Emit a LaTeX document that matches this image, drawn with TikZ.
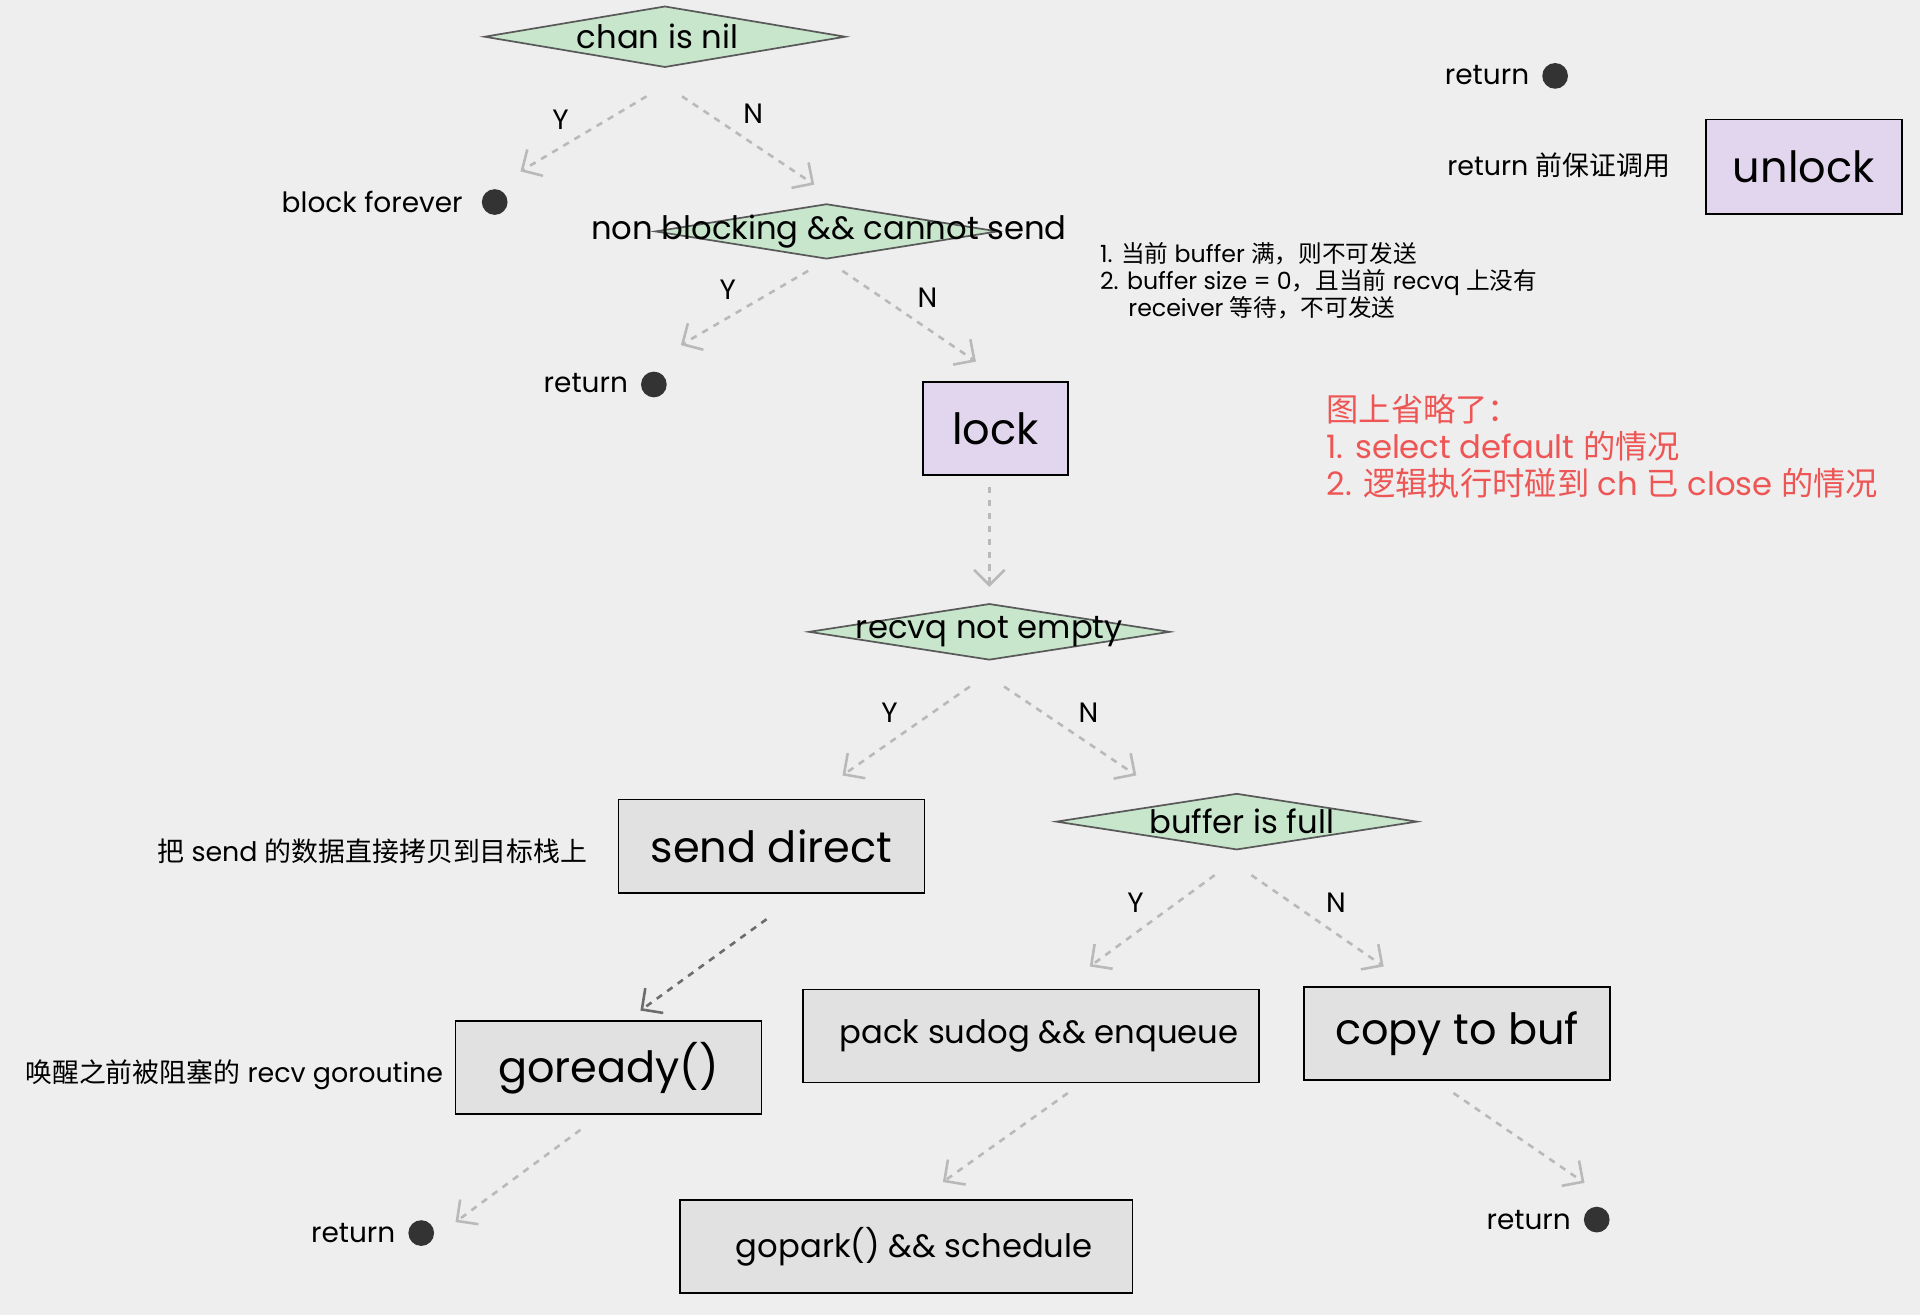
\documentclass[tikz,border=0pt]{standalone}
\usepackage{fontspec}
\setmainfont{Poppins}
\newfontfamily\cjk{Noto Sans CJK SC}
\usetikzlibrary{shapes.geometric, arrows.meta, calc, positioning}
\definecolor{bgcol}{HTML}{EEEEEE}
\definecolor{diafill}{HTML}{C8E6CC}
\definecolor{lockfill}{HTML}{E2D6EE}
\definecolor{boxfill}{HTML}{E1E1E1}
\definecolor{notered}{HTML}{EE5555}
\tikzset{
	decide/.style = {diamond, aspect=6, thick, draw=gray!70!black, fill=diafill, inner sep=0pt},
	lockbox/.style = {rectangle, thick, draw=black, fill=lockfill, font=\fontsize{20}{20}\selectfont},
	stepbox/.style = {rectangle, thick, draw=black, fill=boxfill},
	flow/.style = {very thick, dashed, gray!55, -{Straight Barb[length=2.5mm]}},
	label/.style = {font=\fontsize{13}{13}\selectfont},
	stopdot/.style = {circle, fill=black!80, minimum size=0.42cm, inner sep=0pt},
}
\begin{document}
\begin{tikzpicture}[x=0.02cm, y=-0.02cm]
	\fill[bgcol] (0,0) rectangle (1568,1074);
	\useasboundingbox (0,0) rectangle (1568,1074);
	% decisions
	\node (Nil) [decide, minimum width=5.9cm, minimum height=1cm] at (543,30) {};
	\node at (537,30) [font=\fontsize{15}{15}\selectfont] {chan is nil};
	\node (NonBlock) [decide, minimum width=5.6cm, minimum height=0.9cm] at (675,189) {};
	\node at (677,189) [font=\fontsize{15}{15}\selectfont] {non blocking \&\& cannot send};
	\node (Recvq) [decide, minimum width=5.9cm, minimum height=0.92cm] at (808,516) {};
	\node at (Recvq) [font=\fontsize{15}{15}\selectfont] {recvq not empty};
	\node (BufFull) [decide, minimum width=5.9cm, minimum height=0.92cm] at (1010,671) {};
	\node at (1014,671) [font=\fontsize{15}{15}\selectfont] {buffer is full};
	% boxes
	\node (Lock) [lockbox, minimum width=2.36cm, minimum height=1.52cm] at (813,350) {lock};
	\node (Unlock) [lockbox, minimum width=3.2cm, minimum height=1.54cm] at (1473,136) {unlock};
	\node (SendDirect) [stepbox, minimum width=5cm, minimum height=1.52cm, font=\fontsize{20}{20}\selectfont] at (630,691) {send direct};
	\node (GoReady) [stepbox, minimum width=5cm, minimum height=1.52cm, font=\fontsize{20}{20}\selectfont] at (497,872) {goready()};
	\node (Pack) [stepbox, minimum width=7.44cm, minimum height=1.52cm, font=\fontsize{15}{15}\selectfont] at (842,846) {\hspace{0.5em}pack sudog \&\& enqueue};
	\node (CopyBuf) [stepbox, minimum width=5cm, minimum height=1.52cm, font=\fontsize{20}{20}\selectfont] at (1190,844) {copy to buf};
	\node (GoPark) [stepbox, minimum width=7.4cm, minimum height=1.52cm, font=\fontsize{15}{15}\selectfont] at (740,1018) {\hspace{0.5em}gopark() \&\& schedule};
	% end points
	\node (Block) [label, anchor=east] at (384,165) {block forever};
	\node (BlockDot) [stopdot] at (404,165) {};
	\node (Ret01) [label, anchor=east] at (519,313) {return};
	\node (Ret01Dot) [stopdot] at (534,314) {};
	\node (Ret02) [label, anchor=east] at (1255,61) {return};
	\node (Ret02Dot) [stopdot] at (1270,62) {};
	\node (Ret03) [label, anchor=east] at (329,1007) {return};
	\node (Ret03Dot) [stopdot] at (344,1007) {};
	\node (Ret04) [label, anchor=east] at (1289,996) {return};
	\node (Ret04Dot) [stopdot] at (1304,996) {};
	% notes
	\node (UnlockNote) [anchor=east, font=\fontsize{12.5}{12.5}\selectfont] at (1370,135) {return {\cjk 前保证调用}};
	\node (SendNote) [anchor=east, font=\fontsize{12.5}{12.5}\selectfont] at (486,695) {{\cjk 把} send {\cjk 的数据直接拷贝到目标栈上}};
	\node (ReadyNote) [anchor=east, font=\fontsize{12.5}{12.5}\selectfont] at (368,878) {{\cjk 唤醒之前被阻塞的} recv goroutine};
	\node (BufNote) [anchor=north west, align=left, font=\fontsize{11}{12.5}\selectfont, inner sep=0pt] at (898,198)
		{1. {\cjk 当前} buffer {\cjk 满，则不可发送}\\2. buffer size = 0{\cjk ，且当前} recvq {\cjk 上没有}\\\hspace{1.2em}receiver {\cjk 等待，不可发送}};
	\node (Omit) [anchor=north west, align=left, text=notered, font=\fontsize{15}{17}\selectfont, inner sep=0pt] at (1083,322)
		{{\cjk 图上省略了：}\\1. select default {\cjk 的情况}\\2. {\cjk 逻辑执行时碰到} ch {\cjk 已} close {\cjk 的情况}};
	% connectors
	\draw [flow] ($(Nil.south)+(-15,23)$) -- ($(Block.north east)+(41,-10)$) node[pos=0.55, black, above left, label] {Y};
	\draw [flow] ($(Nil.south)+(14,23)$) -- ($(NonBlock.north)+(-10,-15)$) node[pos=0.4, black, above right, label] {N};
	\draw [flow] ($(NonBlock.south)+(-15,9)$) -- ($(Ret01.north east)+(37,-17)$) node[pos=0.5, black, above left, label] {Y};
	\draw [flow] ($(NonBlock.south)+(13,9)$) -- ($(Lock.north)+(-16,-16)$) node[pos=0.5, black, above right, label] {N};
	\draw [flow] ($(Lock.south)+(-5,9)$) -- ($(Recvq.north)+(0,-13)$);
	\draw [flow] ($(Recvq.south)+(-16,21)$) -- ($(SendDirect.north)+(58,-19)$) node[pos=0.5, black, above left, label] {Y};
	\draw [flow] ($(Recvq.south)+(12,21)$) -- ($(BufFull.north)+(-82,-14)$) node[pos=0.5, black, above right, label] {N};
	\draw [flow] ($(BufFull.south)+(-18,20)$) -- ($(Pack.north)+(48,-18)$) node[pos=0.5, black, above left, label] {Y};
	\draw [flow] ($(BufFull.south)+(12,20)$) -- ($(CopyBuf.north)+(-60,-16)$) node[pos=0.5, black, above right, label] {N};
	\draw [flow, gray!85!black] ($(SendDirect.south)+(-4,21)$) -- ($(GoReady.north)+(26,-8)$);
	\draw [flow] ($(GoReady.south)+(-23,12)$) -- ($(Ret03Dot)+(28,-9)$);
	\draw [flow] ($(Pack.south)+(30,8)$) -- ($(GoPark.north)+(30,-14)$);
	\draw [flow] ($(CopyBuf.south)+(-3,10)$) -- ($(Ret04Dot)+(-10,-30)$);
\end{tikzpicture}
\end{document}
